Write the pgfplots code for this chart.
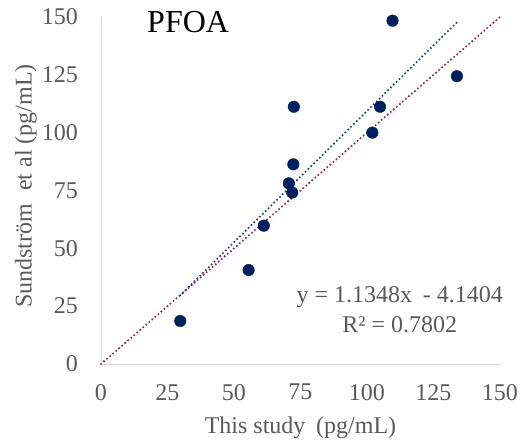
\documentclass[border=0pt]{standalone}
\usepackage{pgfplots}
\pgfplotsset{compat=1.18}
\usepackage{fontspec}
\setmainfont{Liberation Serif}
\definecolor{navy}{RGB}{0,32,96}
\definecolor{trendblue}{RGB}{38,58,110}
\definecolor{trendred}{RGB}{150,35,55}
\definecolor{txtgray}{RGB}{89,89,89}
\definecolor{axgray}{RGB}{217,217,217}
\begin{document}
\begin{tikzpicture}
\useasboundingbox (-101pt,-82pt) rectangle (422pt,364pt);
\begin{axis}[
  at={(0,0)}, anchor=south west,
  scale only axis, width=399pt, height=347pt,
  xmin=0, xmax=150, ymin=0, ymax=150,
  xtick={0,25,...,150}, ytick={0,25,...,150},
  axis x line*=bottom, axis y line*=left,
  axis line style={draw=axgray, line width=0.8pt, -},
  major tick length=0pt,
  /pgf/number format/assume math mode=true,
  font=\rmfamily\fontsize{24}{28}\selectfont,
  tick label style={text=txtgray, font=\rmfamily\fontsize{24}{28}\selectfont, inner sep=0pt},
  xticklabel style={anchor=north, yshift=-20pt},
  yticklabel style={anchor=east, xshift=-23pt},
  every axis x label/.style={at={(axis description cs:0.5,0)}, anchor=north, yshift=-53pt, inner sep=0pt, text=txtgray},
  every axis y label/.style={at={([xshift=-64pt]axis description cs:0,0.513)}, rotate=90, anchor=south, inner sep=0pt, text=txtgray},
  xlabel={This study\hspace{0.2em} (pg/mL)},
  ylabel={Sundström\hspace{0.3em} et al (pg/mL)},
  clip=false,
]
\addplot[trendred, line width=2.3pt, dash pattern=on 0pt off 4pt, line cap=round] coordinates {(0,0) (150,150)};
\addplot[trendblue, line width=2.3pt, dash pattern=on 0pt off 4pt, line cap=round] coordinates {(29.8,29.68) (133.8,147.70)};
\addplot[only marks, mark=*, mark size=5.8pt, mark options={fill=navy, draw=navy}] coordinates {
(109.6,148.4)
(133.8,124.4)
(72.5,111.2)
(104.9,111.2)
(102.0,100.0)
(72.3,86.3)
(70.6,78.1)
(71.9,74.1)
(61.2,59.8)
(55.5,40.6)
(29.8,18.6)
};
\node[anchor=base west, inner sep=0pt, font=\rmfamily\fontsize{32}{36}\selectfont] at (axis cs:17.3,143.5) {PFOA};
\node[anchor=base, inner sep=0pt, text=txtgray] at (axis cs:112.3,26.4) {y = 1.1348x\hspace{0.2em} - 4.1404};
\node[anchor=base, inner sep=0pt, text=txtgray] at (axis cs:112.3,13.8) {R² = 0.7802};
\end{axis}
\end{tikzpicture}
\end{document}
